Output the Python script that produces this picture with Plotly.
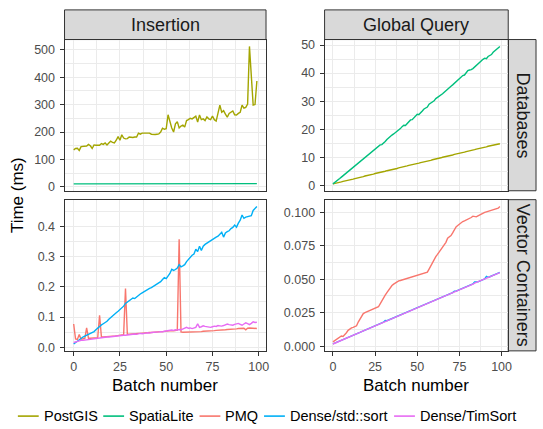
import plotly.graph_objects as go

W, H = 543, 429
batch = list(range(100))

# ---------------- Insertion: Databases ----------------
ins_postgis = [135, 140, 141, 133, 147, 148, 147, 149, 155, 150,
               140, 153, 152, 153, 152, 158, 155, 160, 153, 160,
               167, 162, 160, 170, 183, 170, 190, 178, 175, 176,
               182, 181, 180, 182, 182, 196, 192, 196, 196, 197,
               195, 196, 192, 191, 191, 192, 193, 200, 214, 210,
               212, 263, 235, 215, 200, 230, 238, 215, 222, 225,
               218, 242, 245, 250, 248, 253, 258, 236, 262, 245,
               248, 242, 255, 248, 245, 258, 245, 240, 266, 298,
               272, 278, 265, 254, 268, 274, 277, 263, 262, 268,
               272, 298, 287, 290, 302, 512, 400, 298, 300, 386]
ins_spatialite = [11, 11, 11, 11, 11, 11, 11, 11, 11, 11,
                  11, 11, 11, 11, 11, 11, 11, 11, 11, 12,
                  11, 12, 11, 11, 12, 11, 11, 11, 12, 12,
                  11, 12, 11, 12, 12, 11, 12, 12, 12, 11,
                  12, 12, 11, 12, 12, 12, 11, 12, 12, 12,
                  12, 12, 12, 12, 13, 12, 12, 12, 13, 12,
                  12, 12, 12, 12, 12, 13, 12, 12, 12, 12,
                  12, 12, 12, 12, 12, 12, 12, 12, 12, 12,
                  12, 12, 12, 12, 12, 12, 12, 12, 12, 13,
                  12, 12, 12, 12, 12, 12, 12, 13, 12, 12]

# ---------------- Insertion: Vector Containers ----------------
ins_pmq = [0.077, 0.028, 0.026, 0.042, 0.027, 0.028, 0.029, 0.064, 0.030, 0.030,
           0.031, 0.031, 0.032, 0.032, 0.106, 0.034, 0.034, 0.035, 0.035, 0.036,
           0.036, 0.037, 0.037, 0.038, 0.039, 0.040, 0.041, 0.042, 0.194, 0.043,
           0.043, 0.044, 0.044, 0.045, 0.045, 0.046, 0.046, 0.047, 0.047, 0.048,
           0.048, 0.049, 0.049, 0.050, 0.050, 0.051, 0.051, 0.052, 0.052, 0.053,
           0.053, 0.054, 0.054, 0.055, 0.055, 0.056, 0.057, 0.357, 0.051, 0.050,
           0.050, 0.050, 0.050, 0.050, 0.051, 0.051, 0.051, 0.052, 0.052, 0.052,
           0.053, 0.053, 0.053, 0.054, 0.054, 0.055, 0.055, 0.056, 0.056, 0.057,
           0.057, 0.058, 0.058, 0.059, 0.059, 0.060, 0.060, 0.061, 0.061, 0.062,
           0.062, 0.063, 0.063, 0.058, 0.063, 0.064, 0.064, 0.064, 0.063, 0.062]
ins_stdsort = [0.011, 0.016, 0.022, 0.027, 0.031, 0.034, 0.037, 0.040, 0.042, 0.045,
               0.048, 0.052, 0.058, 0.064, 0.070, 0.074, 0.078, 0.082, 0.086, 0.093,
               0.099, 0.104, 0.109, 0.114, 0.119, 0.124, 0.129, 0.136, 0.145, 0.150,
               0.152, 0.160, 0.163, 0.161, 0.167, 0.171, 0.176, 0.180, 0.184, 0.189,
               0.192, 0.195, 0.197, 0.201, 0.203, 0.207, 0.212, 0.217, 0.224, 0.230,
               0.227, 0.235, 0.244, 0.258, 0.254, 0.257, 0.262, 0.273, 0.266, 0.269,
               0.273, 0.283, 0.290, 0.298, 0.304, 0.308, 0.324, 0.316, 0.334, 0.320,
               0.334, 0.340, 0.344, 0.350, 0.353, 0.356, 0.360, 0.364, 0.367, 0.372,
               0.380, 0.364, 0.378, 0.382, 0.385, 0.392, 0.396, 0.404, 0.397, 0.410,
               0.420, 0.437, 0.426, 0.430, 0.432, 0.433, 0.435, 0.452, 0.460, 0.465]
ins_timsort = [0.016, 0.018, 0.021, 0.022, 0.023, 0.023, 0.024, 0.025, 0.026, 0.027,
               0.028, 0.029, 0.030, 0.030, 0.031, 0.032, 0.032, 0.033, 0.034, 0.034,
               0.035, 0.036, 0.036, 0.037, 0.037, 0.038, 0.039, 0.040, 0.040, 0.041,
               0.041, 0.042, 0.043, 0.044, 0.043, 0.045, 0.046, 0.045, 0.047, 0.047,
               0.048, 0.047, 0.049, 0.049, 0.050, 0.049, 0.051, 0.052, 0.051, 0.053,
               0.054, 0.056, 0.055, 0.057, 0.056, 0.058, 0.057, 0.059, 0.058, 0.060,
               0.063, 0.066, 0.063, 0.064, 0.062, 0.064, 0.066, 0.078, 0.066, 0.068,
               0.071, 0.069, 0.068, 0.067, 0.066, 0.068, 0.070, 0.069, 0.072, 0.071,
               0.070, 0.072, 0.074, 0.077, 0.075, 0.074, 0.073, 0.076, 0.078, 0.079,
               0.076, 0.073, 0.077, 0.081, 0.078, 0.075, 0.079, 0.084, 0.082, 0.083]

# ---------------- Global Query: Databases ----------------
gq_spatialite = [0.5, 0.9, 1.4, 1.9, 2.4, 2.9, 3.4, 3.8, 4.3, 4.8,
                 5.4, 5.8, 6.3, 6.7, 7.3, 7.8, 8.3, 8.7, 9.3, 9.8,
                 10.4, 10.8, 11.3, 11.9, 12.4, 12.6, 13.3, 13.8, 14.4, 14.5,
                 14.9, 15.6, 16.3, 16.9, 17.5, 17.9, 18.3, 18.7, 19.3, 19.6,
                 20.2, 20.9, 21.4, 21.3, 22.0, 22.8, 23.3, 23.4, 24.1, 25.0,
                 25.3, 25.2, 25.7, 26.5, 27.2, 27.5, 27.9, 28.9, 29.3, 29.4,
                 30.1, 30.9, 31.3, 31.7, 32.0, 32.6, 33.2, 33.8, 34.1, 34.7,
                 35.3, 35.8, 36.4, 36.9, 37.3, 37.9, 38.7, 39.1, 39.3, 40.1,
                 40.9, 41.1, 41.2, 41.6, 42.2, 42.8, 43.3, 43.9, 44.5, 44.9,
                 45.3, 45.1, 45.9, 46.3, 46.6, 47.4, 48.0, 48.4, 49.0, 49.5]
gq_postgis = [0.5, 0.6, 0.8, 0.9, 1.1, 1.2, 1.4, 1.5, 1.7, 1.8,
              2.0, 2.1, 2.2, 2.4, 2.5, 2.7, 2.8, 3.0, 3.1, 3.3,
              3.4, 3.6, 3.7, 3.9, 4.0, 4.2, 4.3, 4.4, 4.6, 4.7,
              4.9, 5.0, 5.2, 5.3, 5.5, 5.6, 5.7, 5.9, 6.0, 6.2,
              6.3, 6.5, 6.6, 6.8, 6.9, 7.1, 7.2, 7.3, 7.5, 7.6,
              7.8, 7.9, 8.1, 8.2, 8.4, 8.5, 8.6, 8.8, 8.9, 9.1,
              9.2, 9.4, 9.5, 9.7, 9.8, 10.0, 10.1, 10.2, 10.4, 10.5,
              10.7, 10.8, 11.0, 11.1, 11.3, 11.4, 11.5, 11.7, 11.8, 12.0,
              12.1, 12.3, 12.4, 12.6, 12.7, 12.9, 13.0, 13.1, 13.3, 13.4,
              13.6, 13.7, 13.9, 14.0, 14.2, 14.3, 14.4, 14.5, 14.7, 14.8]

# ---------------- Global Query: Vector Containers ----------------
gq_pmq = [0.0032, 0.0040, 0.0050, 0.0056, 0.0068, 0.0076, 0.0073, 0.0085, 0.0100, 0.0118,
          0.0128, 0.0136, 0.0140, 0.0145, 0.0152, 0.0180, 0.0202, 0.0225, 0.0243, 0.0250,
          0.0255, 0.0262, 0.0266, 0.0270, 0.0275, 0.0278, 0.0285, 0.0294, 0.0315, 0.0340,
          0.0360, 0.0380, 0.0400, 0.0420, 0.0438, 0.0452, 0.0463, 0.0472, 0.0480, 0.0487,
          0.0490, 0.0494, 0.0500, 0.0505, 0.0508, 0.0512, 0.0515, 0.0518, 0.0522, 0.0525,
          0.0528, 0.0532, 0.0536, 0.0540, 0.0544, 0.0548, 0.0552, 0.0575, 0.0600, 0.0625,
          0.0650, 0.0668, 0.0685, 0.0703, 0.0720, 0.0738, 0.0755, 0.0775, 0.0805, 0.0815,
          0.0825, 0.0845, 0.0868, 0.0890, 0.0900, 0.0912, 0.0922, 0.0930, 0.0935, 0.0940,
          0.0948, 0.0955, 0.0960, 0.0970, 0.0968, 0.0965, 0.0972, 0.0980, 0.0985, 0.0992,
          0.0998, 0.1002, 0.1006, 0.1010, 0.1013, 0.1016, 0.1020, 0.1025, 0.1030, 0.1042]
gq_stdsort = [0.0017, 0.0022, 0.0028, 0.0033, 0.0039, 0.0044, 0.0049, 0.0055, 0.0060, 0.0066,
              0.0071, 0.0076, 0.0082, 0.0087, 0.0093, 0.0098, 0.0103, 0.0109, 0.0114, 0.0119,
              0.0125, 0.0135, 0.0136, 0.0141, 0.0146, 0.0152, 0.0157, 0.0163, 0.0168, 0.0173,
              0.0179, 0.0192, 0.0190, 0.0195, 0.0200, 0.0206, 0.0211, 0.0216, 0.0222, 0.0227,
              0.0233, 0.0238, 0.0243, 0.0249, 0.0254, 0.0260, 0.0265, 0.0270, 0.0276, 0.0281,
              0.0286, 0.0292, 0.0297, 0.0303, 0.0308, 0.0313, 0.0319, 0.0324, 0.0330, 0.0335,
              0.0340, 0.0346, 0.0351, 0.0356, 0.0362, 0.0367, 0.0373, 0.0378, 0.0383, 0.0389,
              0.0394, 0.0400, 0.0410, 0.0410, 0.0416, 0.0421, 0.0426, 0.0432, 0.0437, 0.0443,
              0.0448, 0.0453, 0.0459, 0.0464, 0.0480, 0.0480, 0.0480, 0.0486, 0.0491, 0.0496,
              0.0502, 0.0520, 0.0513, 0.0518, 0.0523, 0.0529, 0.0534, 0.0539, 0.0545, 0.0550]
gq_timsort = [0.0016, 0.0021, 0.0027, 0.0032, 0.0038, 0.0043, 0.0048, 0.0054, 0.0059, 0.0065,
              0.0070, 0.0075, 0.0081, 0.0086, 0.0092, 0.0097, 0.0102, 0.0108, 0.0113, 0.0118,
              0.0124, 0.0129, 0.0135, 0.0140, 0.0145, 0.0151, 0.0156, 0.0162, 0.0167, 0.0172,
              0.0178, 0.0183, 0.0189, 0.0194, 0.0199, 0.0205, 0.0210, 0.0215, 0.0221, 0.0226,
              0.0232, 0.0237, 0.0242, 0.0248, 0.0253, 0.0259, 0.0264, 0.0269, 0.0275, 0.0280,
              0.0285, 0.0291, 0.0296, 0.0302, 0.0307, 0.0312, 0.0318, 0.0323, 0.0329, 0.0334,
              0.0339, 0.0345, 0.0350, 0.0355, 0.0361, 0.0366, 0.0372, 0.0377, 0.0382, 0.0388,
              0.0393, 0.0399, 0.0406, 0.0409, 0.0415, 0.0420, 0.0425, 0.0431, 0.0436, 0.0442,
              0.0447, 0.0452, 0.0458, 0.0463, 0.0471, 0.0476, 0.0479, 0.0485, 0.0490, 0.0495,
              0.0501, 0.0507, 0.0512, 0.0517, 0.0522, 0.0528, 0.0533, 0.0538, 0.0544, 0.0549]

series_names = ["PostGIS", "SpatiaLite", "PMQ", "Dense/std::sort", "Dense/TimSort"]
series_colors = {"PostGIS": "#A3A500", "SpatiaLite": "#00BF7D", "PMQ": "#F8766D",
                 "Dense/std::sort": "#00B0F6", "Dense/TimSort": "#E76BF3"}

col_labels = ["Insertion", "Global Query"]
row_labels = ["Databases", "Vector Containers"]

y_ticks_tl = [0, 100, 200, 300, 400, 500]
y_ticks_tr = [0, 10, 20, 30, 40, 50]
y_ticks_bl = [0.0, 0.1, 0.2, 0.3, 0.4]
y_ticks_bl_text = ["0.0", "0.1", "0.2", "0.3", "0.4"]
y_ticks_br = [0.0, 0.025, 0.05, 0.075, 0.1]
y_ticks_br_text = ["0.000", "0.025", "0.050", "0.075", "0.100"]
x_ticks = [0, 25, 50, 75, 100]

FONT = "Liberation Sans, Arial, Helvetica, sans-serif"

def px_x(p):
    return p / W

def px_y(p):
    return 1 - p / H

def expand(vals_list):
    lo = min(min(v) for v in vals_list)
    hi = max(max(v) for v in vals_list)
    d = (hi - lo) * 0.05
    return [lo - d, hi + d]

# panel pixel boxes (left, top, right, bottom)
panels = {
    "TL": (65, 39, 268, 192),
    "TR": (327, 39, 512, 192),
    "BL": (65, 201, 268, 354),
    "BR": (327, 201, 512, 354),
}
axis_ids = {"TL": ("x", "y"), "TR": ("x2", "y2"), "BL": ("x3", "y3"), "BR": ("x4", "y4")}

panel_data = {
    "TL": [("PostGIS", ins_postgis), ("SpatiaLite", ins_spatialite)],
    "TR": [("PostGIS", gq_postgis), ("SpatiaLite", gq_spatialite)],
    "BL": [("PMQ", ins_pmq), ("Dense/std::sort", ins_stdsort), ("Dense/TimSort", ins_timsort)],
    "BR": [("PMQ", gq_pmq), ("Dense/std::sort", gq_stdsort), ("Dense/TimSort", gq_timsort)],
}
ytick_cfg = {
    "TL": (y_ticks_tl, [str(v) for v in y_ticks_tl], 50),
    "TR": (y_ticks_tr, [str(v) for v in y_ticks_tr], 5),
    "BL": (y_ticks_bl, y_ticks_bl_text, 0.05),
    "BR": (y_ticks_br, y_ticks_br_text, 0.0125),
}

fig = go.Figure()
for key, series in panel_data.items():
    xa, ya = axis_ids[key]
    for name, vals in series:
        fig.add_trace(go.Scatter(x=batch, y=vals, mode="lines", name=name,
                                 line=dict(color=series_colors[name], width=1.4),
                                 xaxis=xa, yaxis=ya, showlegend=False))

layout = dict(width=W, height=H, margin=dict(l=0, r=0, t=0, b=0),
              paper_bgcolor="white", plot_bgcolor="white",
              font=dict(family=FONT, color="#4D4D4D", size=12.5),
              showlegend=False)

xr = expand([batch])
for key, (l, t, r, b) in panels.items():
    xa, ya = axis_ids[key]
    xname = "xaxis" + xa[1:]
    yname = "yaxis" + ya[1:]
    bottom = key in ("BL", "BR")
    tv, tt, minor_dt = ytick_cfg[key]
    layout[xname] = dict(
        domain=[px_x(l), px_x(r)], anchor=ya, range=xr,
        tickvals=x_ticks, ticktext=[str(v) for v in x_ticks],
        showticklabels=bottom, ticks="outside" if bottom else "",
        ticklen=4, tickwidth=1, tickcolor="#333333",
        showgrid=True, gridcolor="#EBEBEB", gridwidth=1.1,
        minor=dict(tickvals=[12.5, 37.5, 62.5, 87.5], showgrid=True,
                   gridcolor="#EBEBEB", gridwidth=0.55, ticks=""),
        showline=True, linecolor="#333333", linewidth=1, mirror=True,
        zeroline=False, tickfont=dict(size=12.5, color="#4D4D4D"),
    )
    yr = expand([v for _, v in panel_data[key]])
    minor_vals = [tv[0] + minor_dt * (2 * i + 1) for i in range(len(tv))]
    minor_vals = [m for m in minor_vals if yr[0] <= m <= yr[1]]
    layout[yname] = dict(
        domain=[px_y(b), px_y(t)], anchor=xa, range=yr,
        tickvals=tv, ticktext=tt,
        ticks="outside", ticklen=4, tickwidth=1, tickcolor="#333333", ticklabelstandoff=2,
        showgrid=True, gridcolor="#EBEBEB", gridwidth=1.1,
        minor=dict(tickvals=minor_vals, showgrid=True,
                   gridcolor="#EBEBEB", gridwidth=0.55, ticks=""),
        showline=True, linecolor="#333333", linewidth=1, mirror=True,
        zeroline=False, tickfont=dict(size=12.5, color="#4D4D4D"),
    )

shapes = []
annotations = []

# column strips
for (l, r), lab in zip([(65, 268), (327, 512)], col_labels):
    shapes.append(dict(type="rect", xref="paper", yref="paper",
                       x0=px_x(l), x1=px_x(r), y0=px_y(39), y1=px_y(9),
                       fillcolor="#D9D9D9", line=dict(color="#333333", width=1), layer="below"))
    annotations.append(dict(text=lab, x=px_x((l + r) / 2), y=px_y(24.5), xref="paper", yref="paper",
                            showarrow=False, xanchor="center", yanchor="middle",
                            font=dict(size=18, color="#1A1A1A", family=FONT)))
# row strips
for (t, b), lab in zip([(39, 192), (201, 354)], row_labels):
    shapes.append(dict(type="rect", xref="paper", yref="paper",
                       x0=px_x(512), x1=px_x(540), y0=px_y(b), y1=px_y(t),
                       fillcolor="#D9D9D9", line=dict(color="#333333", width=1), layer="below"))
    annotations.append(dict(text=lab, x=px_x(526.5), y=px_y((t + b) / 2), xref="paper", yref="paper",
                            showarrow=False, xanchor="center", yanchor="middle", textangle=90,
                            font=dict(size=18, color="#1A1A1A", family=FONT)))

# axis titles
for cx in [(65 + 268) / 2, (327 + 512) / 2]:
    annotations.append(dict(text="Batch number", x=px_x(cx), y=px_y(389), xref="paper", yref="paper",
                            showarrow=False, xanchor="center", yanchor="middle", borderpad=0,
                            font=dict(size=17, color="#000000", family=FONT)))
annotations.append(dict(text="Time (ms)", x=px_x(17), y=px_y(196.5), xref="paper", yref="paper",
                        showarrow=False, xanchor="center", yanchor="middle", textangle=-90,
                        font=dict(size=17, color="#000000", family=FONT)))

# legend (manual, bottom)
legend_key_x = [18, 104, 201, 266, 397]
legend_text_x = [44, 130, 227, 292, 423]
ly = 420
for name, kx, tx in zip(series_names, legend_key_x, legend_text_x):
    shapes.append(dict(type="line", xref="paper", yref="paper",
                       x0=px_x(kx), x1=px_x(kx + 21), y0=px_y(ly), y1=px_y(ly),
                       line=dict(color=series_colors[name], width=1.6)))
    annotations.append(dict(text=name, x=px_x(tx - 2), y=px_y(ly), xref="paper", yref="paper",
                            showarrow=False, xanchor="left", yanchor="middle",
                            font=dict(size=14.5, color="#000000", family=FONT)))

layout["shapes"] = shapes
layout["annotations"] = annotations
fig.update_layout(**layout)
fig.write_html("out.html")
